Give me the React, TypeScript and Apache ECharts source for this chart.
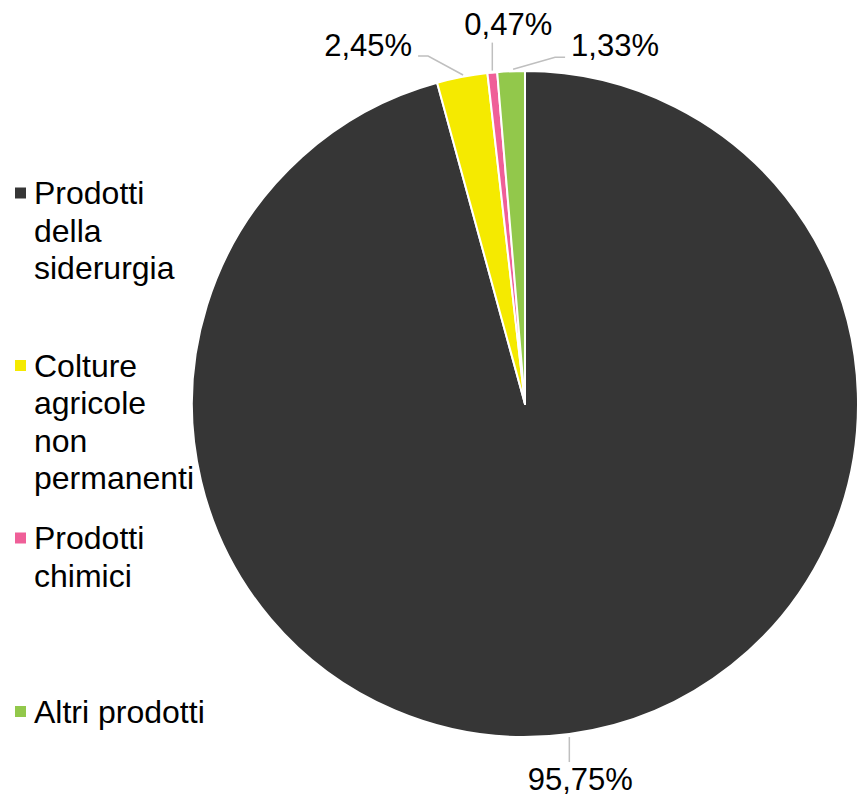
import React, { useEffect, useRef } from "react";
import * as echarts from "echarts";

// ---- Data ----
const categories = [
  "Prodotti della siderurgia",
  "Colture agricole non permanenti",
  "Prodotti chimici",
  "Altri prodotti",
];
const legendLines = [
  ["Prodotti", "della", "siderurgia"],
  ["Colture", "agricole", "non", "permanenti"],
  ["Prodotti", "chimici"],
  ["Altri prodotti"],
];
const values = [95.75, 2.45, 0.47, 1.33];
const colors = ["#363636", "#f5ea00", "#ef5f98", "#92c84b"];

// ---- Layout / style ----
const FONT = "'Liberation Sans', Arial, Helvetica, sans-serif";
const FS = 31;
const LEG_FS = 32;
const LH = 37.5;
const iconCenters = [193, 365.5, 538, 711.5];
const labelAdjust: { line: number[][]; dx: number; dy: number; align: string }[] = [
  { line: [[0, 3], [0, 28]], dx: 11, dy: 45, align: "center" },
  { line: [[1, -2], [-34, -21], [-44, -21]], dx: -50, dy: -31, align: "right" },
  { line: [[0, -2], [0, -30]], dx: 16, dy: -48, align: "center" },
  { line: [[2, -2], [44, -14], [54, -14]], dx: 60, dy: -26, align: "left" },
];

export default function App() {
  const ref = useRef<HTMLDivElement>(null);
  useEffect(() => {
    document.body.style.margin = "0";
    const chart = echarts.init(ref.current!, null, { renderer: "svg" });
    const legends = categories.map((name, i) => {
      const n = legendLines[i].length;
      // blank lines above so that the first text line sits beside the icon
      const text = new Array(n - 1).fill("").concat(legendLines[i]).join("\n");
      return {
        show: true,
        orient: "vertical",
        left: 15,
        top: iconCenters[i] - ((2 * n - 1) * LH) / 2,
        padding: 0,
        data: [name],
        icon: "rect",
        itemWidth: 11,
        itemHeight: 11,
        itemStyle: { borderWidth: 0 },
        selectedMode: false,
        formatter: () => text,
        textStyle: {
          fontSize: LEG_FS,
          lineHeight: LH,
          fontFamily: FONT,
          color: "#000",
          padding: [0, 0, 0, 3],
        },
      };
    });
    chart.setOption({
      animation: false,
      color: colors,
      legend: legends,
      series: [
        {
          type: "pie",
          center: [525, 404],
          radius: 333,
          startAngle: 90,
          clockwise: true,
          avoidLabelOverlap: false,
          emphasis: { disabled: true },
          itemStyle: { borderColor: "#fff", borderWidth: 2 },
          label: {
            show: true,
            position: "outside",
            fontSize: FS,
            lineHeight: 28,
            fontFamily: FONT,
            color: "#000",
            formatter: (p: any) => p.value.toFixed(2).replace(".", ",") + "%",
          },
          labelLine: {
            show: true,
            length: 20,
            length2: 10,
            lineStyle: { color: "#bfbfbf", width: 1.5 },
          },
          labelLayout: (params: any) => {
            const pts = params.labelLinePoints;
            if (!pts || !pts.length) return {};
            const p0 = pts[0];
            const a = labelAdjust[params.dataIndex];
            return {
              x: p0[0] + a.dx,
              y: p0[1] + a.dy,
              align: a.align,
              verticalAlign: "middle",
              labelLinePoints: a.line.map(([dx, dy]) => [p0[0] + dx, p0[1] + dy]),
            };
          },
          data: categories.map((name, i) => ({ name, value: values[i] })),
        },
      ],
    } as any);
    return () => chart.dispose();
  }, []);
  return <div ref={ref} style={{ width: 858, height: 795 }} />;
}
